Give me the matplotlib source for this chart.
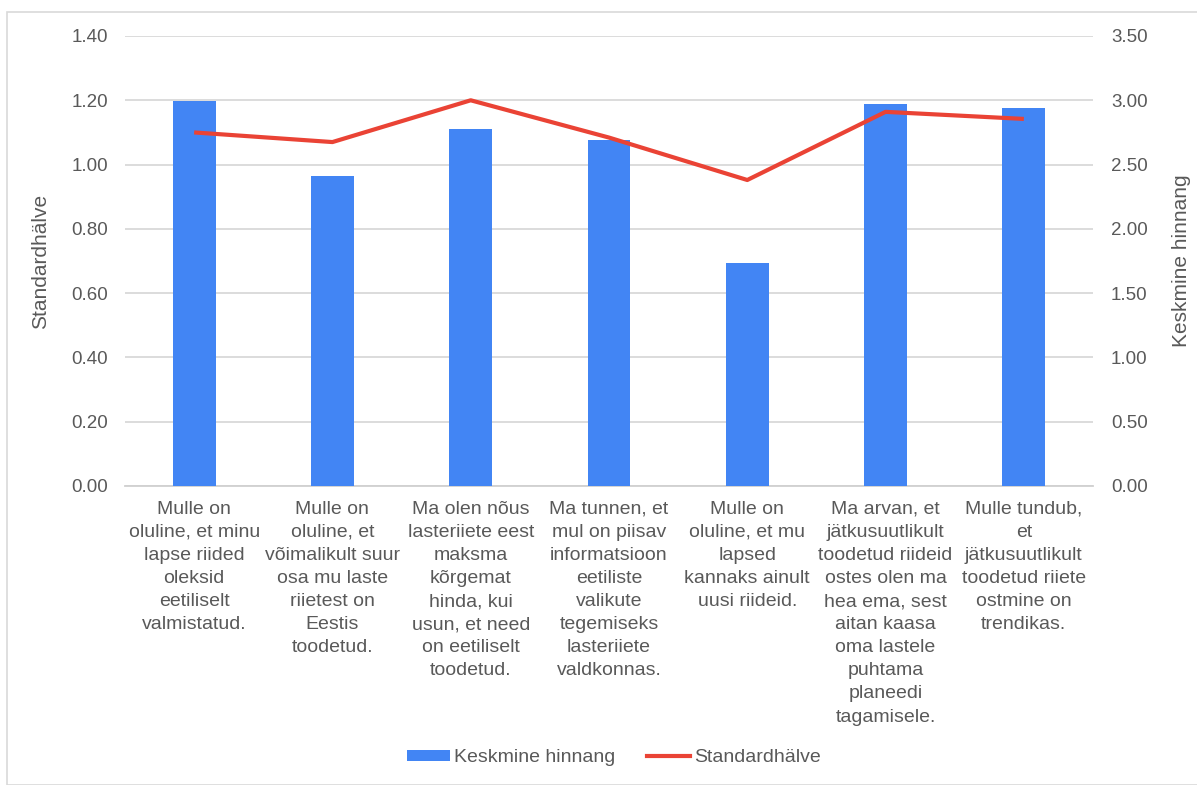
import matplotlib
matplotlib.use("Agg")
import matplotlib.pyplot as plt
from matplotlib.patches import Patch, Rectangle
from matplotlib.lines import Line2D

plt.rcParams['font.family'] = ['Liberation Sans', 'DejaVu Sans']

categories = [
    "Mulle on\noluline, et minu\nlapse riided\noleksid\neetiliselt\nvalmistatud.",
    "Mulle on\noluline, et\nvõimalikult suur\nosa mu laste\nriietest on\nEestis\ntoodetud.",
    "Ma olen nõus\nlasteriiete eest\nmaksma\nkõrgemat\nhinda, kui\nusun, et need\non eetiliselt\ntoodetud.",
    "Ma tunnen, et\nmul on piisav\ninformatsioon\neetiliste\nvalikute\ntegemiseks\nlasteriiete\nvaldkonnas.",
    "Mulle on\noluline, et mu\nlapsed\nkannaks ainult\nuusi riideid.",
    "Ma arvan, et\njätkusuutlikult\ntoodetud riideid\nostes olen ma\nhea ema, sest\naitan kaasa\noma lastele\npuhtama\nplaneedi\ntagamisele.",
    "Mulle tundub,\net\njätkusuutlikult\ntoodetud riiete\nostmine on\ntrendikas.",
]
keskmine = [1.198, 0.965, 1.111, 1.077, 0.694, 1.189, 1.176]
standard = [2.75, 2.675, 3.00, 2.71, 2.38, 2.91, 2.855]

left_ticks = [0.0, 0.2, 0.4, 0.6, 0.8, 1.0, 1.2, 1.4]
right_ticks = [0.0, 0.5, 1.0, 1.5, 2.0, 2.5, 3.0, 3.5]

W, H = 1197, 785
fig = plt.figure(figsize=(W/100, H/100), dpi=100)
fig.patches.append(Rectangle((7/W, 0), 1.2, 1-12/H, transform=fig.transFigure,
                             fill=False, edgecolor='#d9d9d9', linewidth=1.2))

x0, x1 = 125, 1093
y0, y1 = 486, 36
ax = fig.add_axes([x0/W, 1-y0/H, (x1-x0)/W, (y0-y1)/H])
ax2 = ax.twinx()

pos = list(range(len(categories)))
ax.bar(pos, keskmine, width=0.31, color='#4285F4', zorder=3)
ax2.plot(pos, standard, color='#EA4335', linewidth=3, zorder=4, solid_capstyle='butt')

ax.set_xlim(-0.5, len(categories)-0.5)
ax.set_ylim(0, 1.4)
ax2.set_ylim(0, 3.5)
ax.set_yticks(left_ticks)
ax.set_yticklabels([f"{v:.2f}" for v in left_ticks])
ax2.set_yticks(right_ticks)
ax2.set_yticklabels([f"{v:.2f}" for v in right_ticks])
ax.set_xticks(pos)
ax.set_xticklabels(categories, linespacing=1.47)

tc = '#595959'
for a in (ax, ax2):
    for s in a.spines.values():
        s.set_visible(False)
    a.tick_params(length=0, labelsize=14, labelcolor=tc)
ax.tick_params(axis='y', labelsize=13.5, pad=12)
ax2.tick_params(axis='y', labelsize=13.5, pad=13)
ax.tick_params(axis='x', pad=10.5)
ax.grid(axis='y', color='#d9d9d9', linewidth=1.3, zorder=0)
ax.set_axisbelow(True)
ax.spines['bottom'].set_visible(True)
ax.spines['bottom'].set_color('#d0d0d0')
ax.spines['bottom'].set_linewidth(1.3)

ax.set_ylabel("Standardhälve", fontsize=15, color=tc)
ax.yaxis.set_label_coords((50 - x0)/(x1 - x0), 0.5)
ax2.set_ylabel("Keskmine hinnang", fontsize=15, color=tc, rotation=90)
ax2.yaxis.set_label_coords((1172 - x0)/(x1 - x0), 0.5)

handles = [Patch(facecolor='#4285F4', edgecolor='none'),
           Line2D([0], [0], color='#EA4335', linewidth=3)]
fig.legend(handles, ["Keskmine hinnang", "Standardhälve"], loc='center',
           bbox_to_anchor=(614/W, 1-758/H), ncol=2, frameon=False, fontsize=14,
           handlelength=2.2, handleheight=0.5, handletextpad=0.25, columnspacing=1.6,
           labelcolor=tc)

fig.savefig("out.png", dpi=100)
